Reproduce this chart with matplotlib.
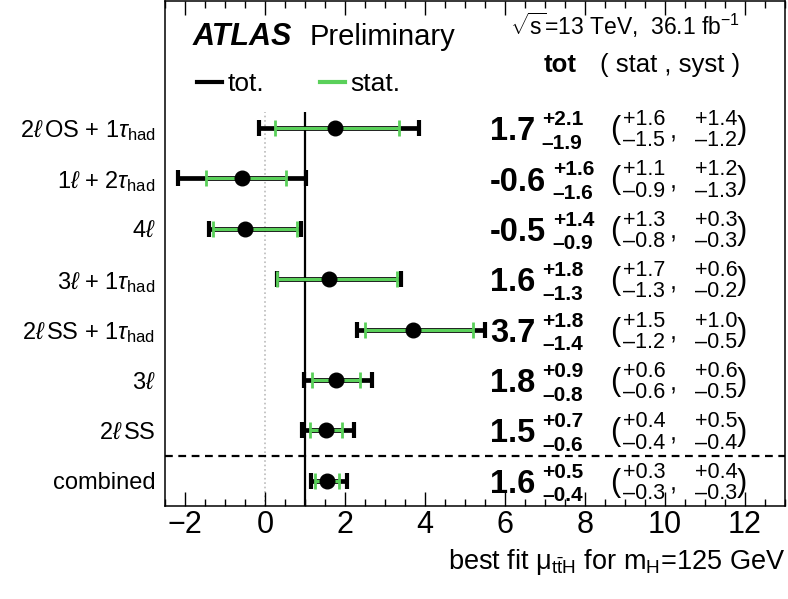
import matplotlib
matplotlib.use('Agg')
import matplotlib.pyplot as plt
from matplotlib.lines import Line2D
from matplotlib.ticker import MultipleLocator

plt.rcParams['font.family'] = ['Liberation Sans', 'DejaVu Sans']
plt.rcParams['mathtext.fontset'] = 'custom'
plt.rcParams['mathtext.rm'] = 'Liberation Sans'
plt.rcParams['mathtext.it'] = 'Liberation Sans:italic'
plt.rcParams['mathtext.bf'] = 'Liberation Sans:bold'

# channels, top to bottom
labels = [r'2$\mathit{\ell}\,$OS + 1$\tau_{\rm had}$', r'1$\mathit{\ell}$ + 2$\tau_{\rm had}$',
          r'4$\mathit{\ell}$', r'3$\mathit{\ell}$ + 1$\tau_{\rm had}$',
          r'2$\mathit{\ell}\,$SS + 1$\tau_{\rm had}$', r'3$\mathit{\ell}$',
          r'2$\mathit{\ell}\,$SS', 'combined']
mu = [1.74, -0.58, -0.51, 1.61, 3.69, 1.77, 1.52, 1.56]
tot_up = [2.1, 1.6, 1.4, 1.8, 1.8, 0.9, 0.7, 0.5]
tot_dn = [1.9, 1.6, 0.9, 1.3, 1.4, 0.8, 0.6, 0.4]
stat_up = [1.6, 1.1, 1.3, 1.7, 1.5, 0.6, 0.4, 0.3]
stat_dn = [1.5, 0.9, 0.8, 1.3, 1.2, 0.6, 0.4, 0.3]
syst_up = [1.4, 1.2, 0.3, 0.6, 1.0, 0.6, 0.5, 0.4]
syst_dn = [1.2, 1.3, 0.3, 0.2, 0.5, 0.5, 0.4, 0.3]

green = '#5ad05a'
ys = list(range(len(labels) - 1, -1, -1))

fig = plt.figure(figsize=(7.88, 5.99), dpi=100)
ax = fig.add_axes([165 / 788, 93 / 599, 620 / 788, 505 / 599])
ax.set_xlim(-2.5, 13)
ax.set_ylim(-0.5, 9.52)

# reference lines stop just above the first channel
ax.vlines(0, -0.5, 7.32, color='#bbbbbb', ls=':', lw=1.2, zorder=1)
ax.vlines(1, -0.5, 7.32, color='k', lw=1.6, zorder=2)
ax.axhline(0.5, color='k', ls=(0, (3.5, 2.5)), lw=1.6, zorder=2)

ax.errorbar(mu, ys, xerr=[tot_dn, tot_up], fmt='none', ecolor='k',
            elinewidth=3.4, capsize=5.6, capthick=3, zorder=3)
ax.errorbar(mu, ys, xerr=[stat_dn, stat_up], fmt='none', ecolor=green,
            elinewidth=2.2, capsize=5.6, capthick=2, zorder=4)
ax.plot(mu, ys, 'o', color='k', ms=10.5, zorder=5)

# numbers on the right
for y, m, tu, td, su, sd, yu, yd in zip(ys, mu, tot_up, tot_dn, stat_up, stat_dn, syst_up, syst_dn):
    main = ax.text(5.62, y - 0.24, f'{m:.1f}', fontsize=23.5, fontweight='bold',
                   ha='left', va='baseline')
    ax.annotate(f'+{tu:.1f}', xy=(1, y + 0.06), xycoords=(main, 'data'),
                xytext=(5, 0), textcoords='offset points', fontsize=15,
                fontweight='bold', ha='left', va='baseline')
    ax.annotate(f'\u2013{td:.1f}', xy=(1, y - 0.41), xycoords=(main, 'data'),
                xytext=(5, 0), textcoords='offset points', fontsize=15,
                fontweight='bold', ha='left', va='baseline')
    ax.text(8.62, y - 0.2, '(', fontsize=22, ha='left', va='baseline')
    ax.text(8.95, y + 0.06, f'+{su:.1f}', fontsize=15.5, ha='left', va='baseline')
    ax.text(8.95, y - 0.36, f'\u2013{sd:.1f}', fontsize=15.5, ha='left', va='baseline')
    ax.text(10.2, y - 0.2, ',', fontsize=18, ha='center', va='baseline')
    ax.text(10.75, y + 0.06, f'+{yu:.1f}', fontsize=15.5, ha='left', va='baseline')
    ax.text(10.75, y - 0.36, f'\u2013{yd:.1f}', fontsize=15.5, ha='left', va='baseline')
    ax.text(11.8, y - 0.2, ')', fontsize=22, ha='left', va='baseline')

# header
ax.text(-1.8, 8.65, 'ATLAS', fontsize=22, fontweight='bold', style='italic',
        ha='left', va='baseline')
ax.text(1.12, 8.65, 'Preliminary', fontsize=21, ha='left', va='baseline')
ax.text(6.12, 8.85, r'$\sqrt{\mathregular{s}}$=13 TeV,  36.1 fb$^{\mathregular{-1}}$',
        fontsize=16.5, ha='left', va='baseline')
ax.text(7.37, 8.11, 'tot', fontsize=18.5, fontweight='bold', ha='center', va='baseline')
ax.text(8.38, 8.11, '( stat , syst )', fontsize=18.5, ha='left', va='baseline')

handles = [Line2D([], [], color='k', lw=3), Line2D([], [], color=green, lw=3)]
ax.legend(handles, ['tot.', 'stat.'], ncol=2, loc='center left',
          bbox_to_anchor=(0.052, 0.835), frameon=False, fontsize=19,
          handlelength=0.95, handletextpad=0.2, columnspacing=2.1,
          borderpad=0, borderaxespad=0)

ax.set_yticks(ys)
ax.set_yticklabels(labels, fontsize=17)
ax.tick_params(axis='y', length=0, pad=7)
ax.xaxis.set_major_locator(MultipleLocator(2))
ax.xaxis.set_minor_locator(MultipleLocator(0.5))
ax.tick_params(axis='x', which='both', direction='in', top=True, labelsize=22, pad=3)
ax.tick_params(axis='x', which='major', length=10, width=1)
ax.tick_params(axis='x', which='minor', length=5, width=1)
for s in ax.spines.values():
    s.set_linewidth(1.1)

ax.set_xlabel(r'best fit $\mathregular{\mu_{t\bar{t}H}}$ for m$_\mathregular{H}$=125 GeV',
              fontsize=19.5, loc='right', labelpad=5)

fig.savefig('out.png', dpi=100)
